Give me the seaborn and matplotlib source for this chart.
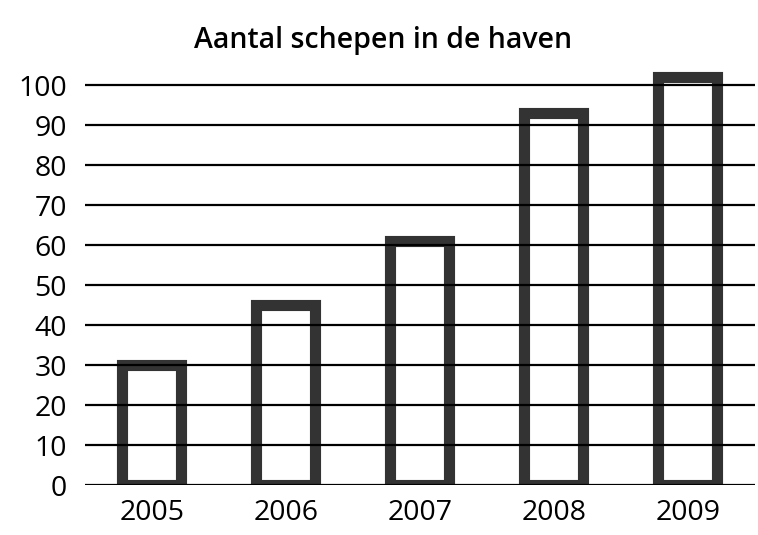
import matplotlib
matplotlib.use("Agg")
import matplotlib.pyplot as plt
import seaborn as sns
import pandas as pd

# data
years = ["2005", "2006", "2007", "2008", "2009"]
ships = [30, 45, 61, 93, 102]
y_ticks = [0, 10, 20, 30, 40, 50, 60, 70, 80, 90, 100]

df = pd.DataFrame({"jaar": years, "schepen": ships})

sns.set_theme(style="white")
plt.rcParams["font.family"] = ["Open Sans", "DejaVu Sans"]

fig = plt.figure(figsize=(7.58, 5.35), dpi=100)
ax = fig.add_axes([0.112, 0.093, 0.884, 0.778])

sns.barplot(data=df, x="jaar", y="schepen", ax=ax, width=0.44,
            color="white", edgecolor="#333333", linewidth=8)
for p in ax.patches:
    p.set_facecolor("none")

ax.set_ylim(0, 104)
ax.set_xlim(-0.5, 4.5)
ax.set_yticks(y_ticks)
ax.yaxis.grid(True, color="black", linewidth=1.6)
ax.set_axisbelow(False)
sns.despine(ax=ax, left=True, bottom=True)
ax.tick_params(axis="both", length=0, labelsize=20.5, labelcolor="black")
ax.tick_params(axis="y", pad=13)
ax.tick_params(axis="x", pad=10)
for lab in ax.get_xticklabels() + ax.get_yticklabels():
    lab.set_fontweight("medium")
ax.set_xlabel("")
ax.set_ylabel("")

fig.text(0.505, 0.925, "Aantal schepen in de haven", ha="center", va="center",
         fontsize=20.5, fontweight="semibold", color="black")

fig.savefig("out.png", dpi=100)
